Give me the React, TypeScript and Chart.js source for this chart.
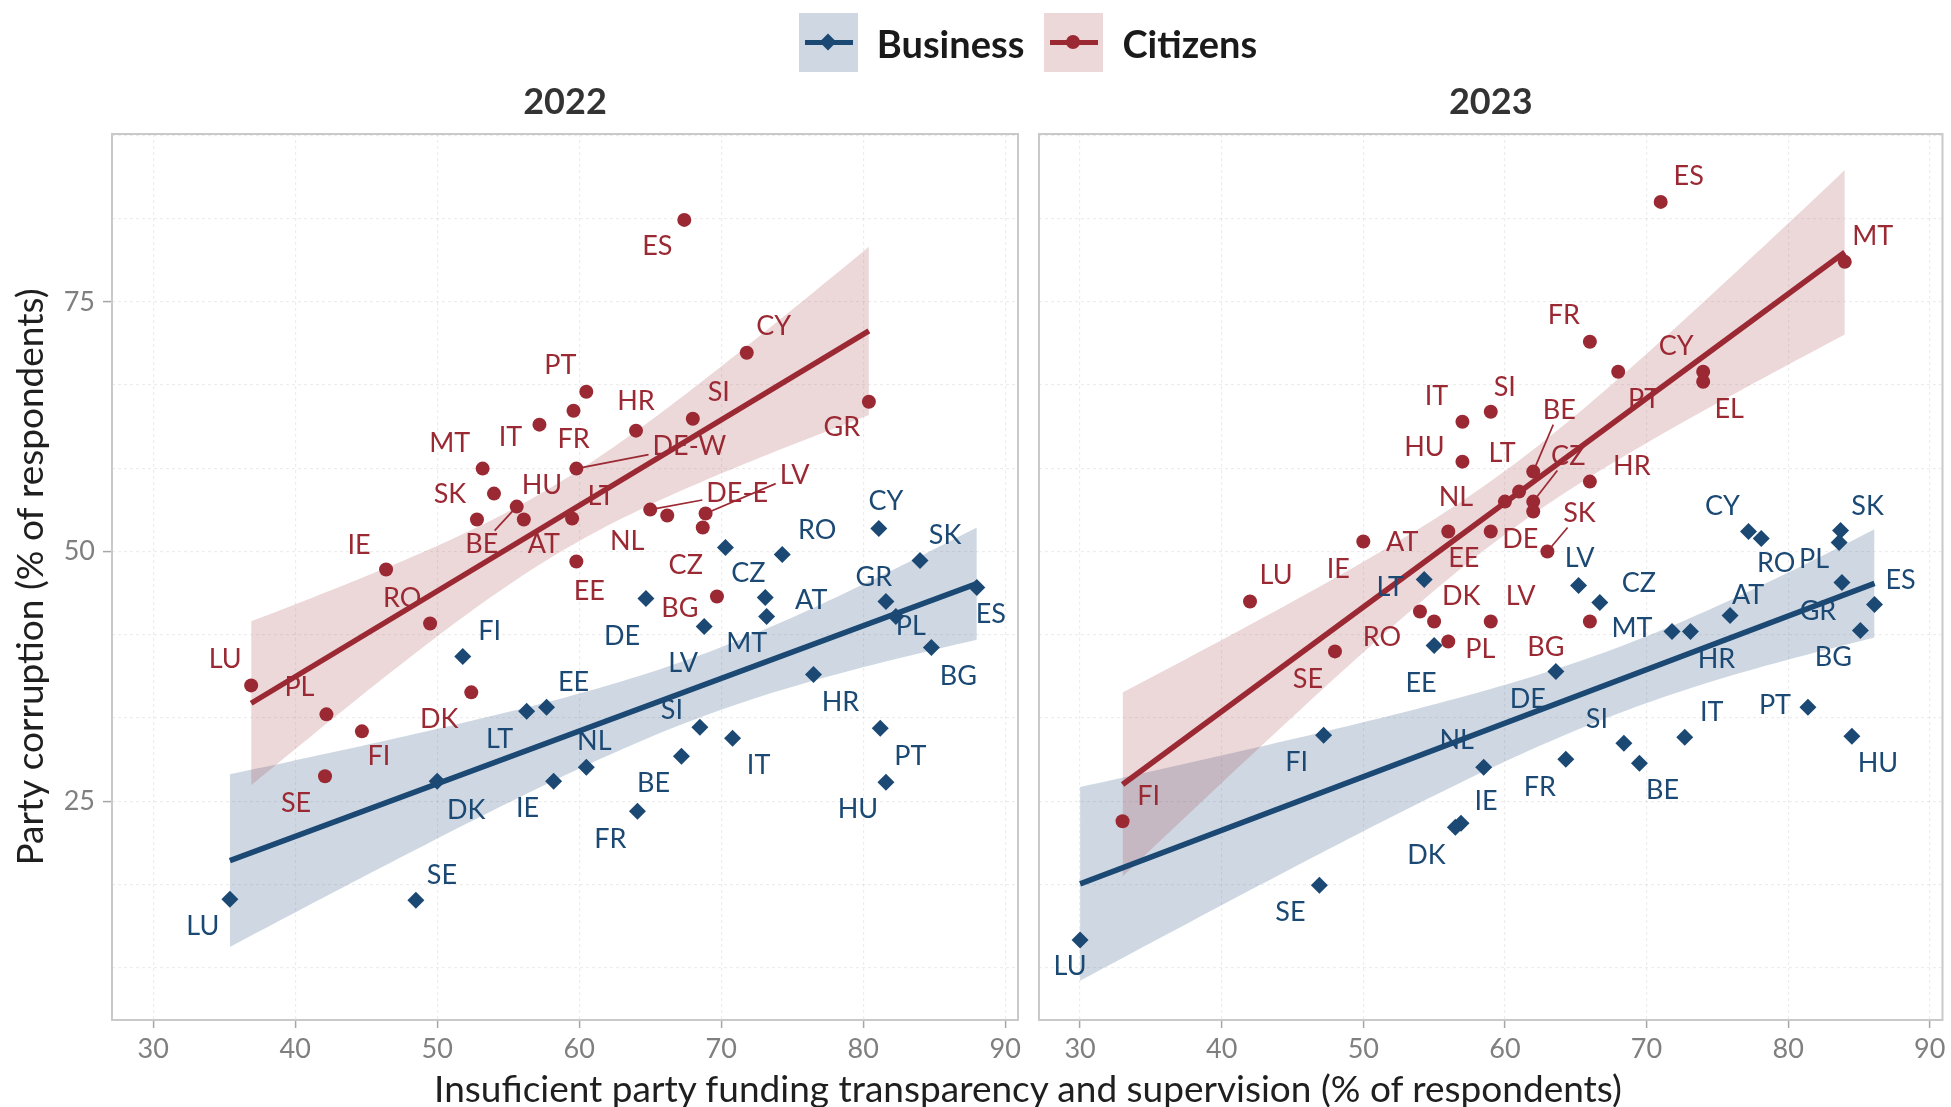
import React, { useEffect, useRef } from "react";
import { Chart, registerables } from "chart.js";

Chart.register(...registerables);

// ---------------- DATA ----------------
const seriesNames = ["Business", "Citizens"];
const years = ["2022", "2023"];

const xMajorTicks = [30, 40, 50, 60, 70, 80, 90];
const yMajorTicks = [25, 50, 75];

// 2022 – Citizens
const citizens2022Countries = ["CY", "PT", "FR", "IT", "HR", "SI", "DE-W", "MT", "HU", "SK", "BE", "AT", "LT", "IE", "RO", "EE", "DE-E", "NL", "LV", "CZ", "BG", "ES", "GR", "LU", "PL", "FI", "SE", "DK"];
const citizens2022X = [71.8, 60.5, 59.6, 57.2, 64.0, 68.0, 59.8, 53.2, 54.0, 52.8, 55.6, 56.1, 59.5, 46.4, 49.5, 59.8, 65.0, 66.2, 68.9, 68.7, 69.7, 67.4, 80.4, 36.9, 42.2, 44.7, 42.1, 52.4];
const citizens2022Y = [69.9, 66.0, 64.1, 62.7, 62.1, 63.3, 58.3, 58.3, 55.8, 53.2, 54.5, 53.2, 53.3, 48.2, 42.8, 49.0, 54.2, 53.6, 53.8, 52.4, 45.5, 83.2, 65.0, 36.6, 33.7, 32.0, 27.5, 35.9];

// 2022 – Business
const business2022Countries = ["CY", "RO", "CZ", "SK", "ES", "GR", "PL", "BG", "AT", "MT", "DE", "LV", "HR", "PT", "HU", "SI", "IT", "BE", "FR", "NL", "IE", "LT", "EE", "FI", "DK", "SE", "LU"];
const business2022X = [81.1, 74.3, 70.3, 84.0, 88.0, 81.6, 82.3, 84.8, 73.1, 73.2, 64.7, 68.8, 76.5, 81.2, 81.6, 68.5, 70.8, 67.2, 64.1, 60.5, 58.2, 56.3, 57.7, 51.8, 50.0, 48.5, 35.4];
const business2022Y = [52.3, 49.7, 50.4, 49.1, 46.4, 45.0, 43.5, 40.4, 45.4, 43.5, 45.3, 42.5, 37.7, 32.3, 26.9, 32.4, 31.3, 29.5, 24.0, 28.4, 27.0, 34.0, 34.4, 39.5, 27.0, 15.1, 15.2];

// 2023 – Citizens
const citizens2023Countries = ["FR", "PT", "CY", "EL", "SI", "IT", "HU", "BE", "LT", "NL", "CZ", "DE", "HR", "EE", "AT", "SK", "IE", "LU", "RO", "DK", "PL", "LV", "SE", "BG", "FI", "ES", "MT"];
const citizens2023X = [66, 68, 74, 74, 59, 57, 57, 62, 61, 60, 62, 62, 66, 59, 56, 63, 50, 42, 54, 55, 56, 59, 48, 66, 33, 71, 84];
const citizens2023Y = [71, 68, 68, 67, 64, 63, 59, 58, 56, 55, 55, 54, 57, 52, 52, 50, 51, 45, 44, 43, 41, 43, 40, 43, 23, 85, 79];

// 2023 – Business
const business2023Countries = ["CY", "RO", "SK", "PL", "GR", "ES", "BG", "AT", "MT", "HR", "LV", "CZ", "PT", "HU", "IT", "SI", "BE", "FR", "LT", "EE", "DE", "FI", "NL", "IE", "DK", "SE", "LU"];
const business2023X = [77.2, 78.1, 83.7, 83.6, 83.8, 86.1, 85.1, 75.9, 71.8, 73.1, 65.2, 66.7, 81.4, 84.5, 72.7, 68.4, 69.5, 64.3, 54.3, 55.0, 63.6, 47.2, 58.5, 56.9, 56.5, 46.9, 30.0];
const business2023Y = [52.0, 51.3, 52.1, 50.9, 46.9, 44.7, 42.1, 43.6, 42.0, 42.0, 46.6, 44.9, 34.4, 31.5, 31.4, 30.8, 28.8, 29.2, 47.2, 40.6, 38.0, 31.6, 28.4, 22.8, 22.4, 16.6, 11.1];

// ---------------- LABEL PLACEMENT (px offsets from point, repel-like) ----------------
const citizens2022LabelOffsets = [[27, -26], [-26, -26], [0, 29], [-29, 13], [0, -29], [26, -26], [113, -22], [-33, -25], [48, -8], [-27, -25], [-35, 38], [20, 25], [29, -22], [-27, -24], [-28, -25], [13, 30], [87, -16], [-40, 26], [89, -38], [-17, 38], [-37, 12], [-27, 26], [-27, 26], [-26, -26], [-27, -27], [17, 25], [-29, 27], [-32, 27]];
const business2022LabelOffsets = [[7, -27], [35, -24], [23, 26], [25, -25], [14, 27], [-12, -24], [15, 10], [27, 29], [46, 3], [-20, 27], [-24, 38], [-21, 37], [27, 28], [30, 28], [-28, 27], [-28, -17], [26, 27], [-28, 27], [-27, 28], [8, -26], [-26, 27], [-27, 28], [27, -25], [27, -25], [29, 29], [26, -25], [-27, 27]];
const citizens2023LabelOffsets = [[-26, -26], [26, 28], [-27, -25], [26, 28], [14, -24], [-26, -25], [-38, -14], [26, -61], [-17, -38], [-49, -4], [35, -45], [-13, 28], [42, -15], [-27, 27], [-46, 11], [32, -38], [-25, 28], [26, -26], [-38, 26], [27, -25], [32, 8], [30, -25], [-27, 28], [-44, 26], [26, -25], [28, -26], [28, -26]];
const business2023LabelOffsets = [[-26, -25], [15, 25], [27, -24], [-25, 17], [-24, 29], [26, -24], [-27, 27], [18, -20], [-40, -3], [26, 28], [1, -27], [39, -19], [-33, -2], [26, 27], [27, -25], [-27, -24], [23, 27], [-26, 28], [-34, 8], [-13, 38], [-28, 28], [-27, 27], [-27, -27], [25, -22], [-29, 28], [-29, 27], [-10, 26]];

const citizens2022Segments = ["DE-W", "DE-E", "LV", "BE"];
const citizens2023Segments = ["BE", "CZ", "SK"];

// ---------------- STYLE ----------------
const BUSINESS = "#1b4974";
const CITIZENS = "#9b2933";
const BUSINESS_BAND = "rgba(27,73,116,0.21)";
const CITIZENS_BAND = "rgba(155,41,51,0.19)";
const FONT = "Lato, 'Noto Sans', sans-serif";
const X_MIN = 27.1, X_MAX = 90.9, Y_MIN = 3.1, Y_MAX = 91.8;
const CANVAS_W = 1951, CANVAS_H = 1107;
const PANEL_LEFT = [112, 1039];
const PANEL_RIGHT = [1018, 1944];
const PANEL_TOP = 134;
const PANEL_BOTTOM = 1020;
const LABEL_SIZE = 27;
const TICK_SIZE = 27;
const AXIS_TITLE_SIZE = 37;

// ---------------- HELPERS ----------------
function tQuantile975(df: number) {
  const z = 1.959964;
  const g1 = (z ** 3 + z) / 4;
  const g2 = (5 * z ** 5 + 16 * z ** 3 + 3 * z) / 96;
  const g3 = (3 * z ** 7 + 19 * z ** 5 + 17 * z ** 3 - 15 * z) / 384;
  return z + g1 / df + g2 / df ** 2 + g3 / df ** 3;
}

function lmFit(xs: number[], ys: number[]) {
  const n = xs.length;
  const mx = xs.reduce((a, b) => a + b, 0) / n;
  const my = ys.reduce((a, b) => a + b, 0) / n;
  let sxx = 0, sxy = 0;
  for (let i = 0; i < n; i++) {
    sxx += (xs[i] - mx) ** 2;
    sxy += (xs[i] - mx) * (ys[i] - my);
  }
  const b = sxy / sxx;
  const a = my - b * mx;
  let sse = 0;
  for (let i = 0; i < n; i++) sse += (ys[i] - a - b * xs[i]) ** 2;
  const s = Math.sqrt(sse / (n - 2));
  const t = tQuantile975(n - 2);
  const lo = Math.min(...xs), hi = Math.max(...xs);
  const steps = 80;
  const upper: { x: number; y: number }[] = [];
  const lower: { x: number; y: number }[] = [];
  for (let k = 0; k <= steps; k++) {
    const x = lo + ((hi - lo) * k) / steps;
    const fit = a + b * x;
    const se = s * Math.sqrt(1 / n + (x - mx) ** 2 / sxx);
    upper.push({ x, y: fit + t * se });
    lower.push({ x, y: fit - t * se });
  }
  const line = [{ x: lo, y: a + b * lo }, { x: hi, y: a + b * hi }];
  return { upper, lower, line };
}

const zip = (xs: number[], ys: number[]) => xs.map((x, i) => ({ x, y: ys[i] }));

const yGridValues: number[] = [];
for (let k = 1; k * 25 / 3 < Y_MAX; k++) {
  const v = (25 * k) / 3;
  if (v > Y_MIN) yGridValues.push(v);
}

// ---------------- PLUGINS ----------------
const framePlugin = {
  id: "panelFrame",
  afterDraw(chart: any, _args: any, opts: any) {
    const { ctx, chartArea: a } = chart;
    ctx.save();
    ctx.strokeStyle = "#c9c9c9";
    ctx.lineWidth = 2;
    ctx.strokeRect(a.left, a.top, a.right - a.left, a.bottom - a.top);
    ctx.fillStyle = "#333333";
    ctx.font = `bold 36px ${FONT}`;
    ctx.textAlign = "center";
    ctx.textBaseline = "middle";
    ctx.fillText(opts.title, (a.left + a.right) / 2, a.top - 32);
    ctx.restore();
  },
};

const labelPlugin = {
  id: "countryLabels",
  afterDatasetsDraw(chart: any) {
    const ctx = chart.ctx;
    ctx.save();
    ctx.font = `${LABEL_SIZE}px ${FONT}`;
    ctx.textAlign = "center";
    ctx.textBaseline = "middle";
    chart.data.datasets.forEach((ds: any, di: number) => {
      if (!ds.countryLabels) return;
      const meta = chart.getDatasetMeta(di);
      meta.data.forEach((el: any, i: number) => {
        const name = ds.countryLabels[i];
        const [dx, dy] = ds.labelOffsets[i];
        const lx = el.x + dx, ly = el.y + dy;
        ctx.fillStyle = ds.labelColor;
        ctx.strokeStyle = ds.labelColor;
        if (ds.segmentLabels && ds.segmentLabels.includes(name)) {
          const w = ctx.measureText(name).width / 2 + 4;
          const h = 14;
          const vx = el.x - lx, vy = el.y - ly;
          const s = Math.min(w / Math.max(Math.abs(vx), 1e-6), h / Math.max(Math.abs(vy), 1e-6));
          ctx.lineWidth = 1.7;
          ctx.beginPath();
          ctx.moveTo(el.x, el.y);
          ctx.lineTo(lx + vx * s, ly + vy * s);
          ctx.stroke();
        }
        ctx.fillText(name, lx, ly);
      });
    });
    ctx.restore();
  },
};

// ---------------- CHART BUILDER ----------------
type Group = { countries: string[]; xs: number[]; ys: number[]; offsets: number[][]; segments: string[] };

function buildConfig(panel: number, business: Group, citizens: Group): any {
  const bFit = lmFit(business.xs, business.ys);
  const cFit = lmFit(citizens.xs, citizens.ys);
  const isFirst = panel === 0;
  const gridColor = "rgba(0,0,0,0.07)";
  const tickColor = "#a6a6a6";
  const bandDs = (data: any, color: string, fill: any, order: number) => ({
    type: "line",
    data,
    borderWidth: 0,
    borderColor: "rgba(0,0,0,0)",
    pointRadius: 0,
    backgroundColor: color,
    fill,
    tension: 0,
    order,
  });
  return {
    type: "line",
    data: {
      datasets: [
        bandDs(bFit.upper, BUSINESS_BAND, "+1", 20),
        bandDs(bFit.lower, BUSINESS_BAND, false, 21),
        bandDs(cFit.upper, CITIZENS_BAND, "+1", 18),
        bandDs(cFit.lower, CITIZENS_BAND, false, 19),
        {
          type: "line", data: bFit.line, borderColor: BUSINESS, borderWidth: 5.5,
          pointRadius: 0, fill: false, order: 10, borderCapStyle: "butt",
        },
        {
          type: "line", data: cFit.line, borderColor: CITIZENS, borderWidth: 5.5,
          pointRadius: 0, fill: false, order: 9, borderCapStyle: "butt",
        },
        {
          type: "line", showLine: false, data: zip(business.xs, business.ys),
          pointStyle: "rectRot", pointRadius: 8.5, pointBackgroundColor: BUSINESS,
          pointBorderWidth: 0, borderColor: BUSINESS, order: 2,
          countryLabels: business.countries, labelOffsets: business.offsets,
          segmentLabels: business.segments, labelColor: BUSINESS,
        },
        {
          type: "line", showLine: false, data: zip(citizens.xs, citizens.ys),
          pointStyle: "circle", pointRadius: 7, pointBackgroundColor: CITIZENS,
          pointBorderWidth: 0, borderColor: CITIZENS, order: 1,
          countryLabels: citizens.countries, labelOffsets: citizens.offsets,
          segmentLabels: citizens.segments, labelColor: CITIZENS,
        },
      ],
    },
    options: {
      responsive: false,
      animation: false,
      events: [],
      devicePixelRatio: 1,
      layout: {
        padding: {
          top: PANEL_TOP,
          bottom: 0,
          left: isFirst ? 0 : PANEL_LEFT[1],
          right: CANVAS_W - PANEL_RIGHT[panel],
        },
      },
      plugins: {
        legend: { display: false },
        tooltip: { enabled: false },
        title: { display: false },
        panelFrame: { title: years[panel] },
      },
      scales: {
        x: {
          type: "linear",
          min: X_MIN,
          max: X_MAX,
          afterBuildTicks: (s: any) => { s.ticks = xMajorTicks.map((v) => ({ value: v })); },
          afterFit: (s: any) => { s.height = CANVAS_H - PANEL_BOTTOM; },
          ticks: {
            autoSkip: false, maxRotation: 0, padding: 5, color: "#7f7f7f",
            font: { family: FONT, size: TICK_SIZE },
            callback: (v: number) => String(v),
          },
          grid: { color: gridColor, lineWidth: 1.2, tickColor, tickLength: 8, tickWidth: 1.5 },
          border: { display: false, dash: [3, 3] },
        },
        y: {
          type: "linear",
          min: Y_MIN,
          max: Y_MAX,
          afterBuildTicks: (s: any) => { s.ticks = yGridValues.map((v) => ({ value: v })); },
          afterFit: (s: any) => { s.width = isFirst ? PANEL_LEFT[0] : 0; },
          title: isFirst
            ? {
                display: true, text: "Party corruption (% of respondents)", color: "#1f1f1f",
                font: { family: FONT, size: AXIS_TITLE_SIZE }, padding: { top: 9, bottom: 0 },
              }
            : { display: false },
          ticks: {
            display: isFirst, autoSkip: false, padding: 8, color: "#7f7f7f",
            font: { family: FONT, size: TICK_SIZE },
            callback: (v: number) => (yMajorTicks.includes(v) ? String(v) : ""),
          },
          grid: {
            color: gridColor, lineWidth: 1.2, drawTicks: isFirst, tickLength: 9, tickWidth: 1.5,
            tickColor: (c: any) => (c.tick && yMajorTicks.includes(c.tick.value) ? tickColor : "rgba(0,0,0,0)"),
          },
          border: { display: false, dash: [3, 3] },
        },
      },
    },
    plugins: [framePlugin, labelPlugin],
  };
}

const panelGroups: { business: Group; citizens: Group }[] = [
  {
    business: { countries: business2022Countries, xs: business2022X, ys: business2022Y, offsets: business2022LabelOffsets, segments: [] },
    citizens: { countries: citizens2022Countries, xs: citizens2022X, ys: citizens2022Y, offsets: citizens2022LabelOffsets, segments: citizens2022Segments },
  },
  {
    business: { countries: business2023Countries, xs: business2023X, ys: business2023Y, offsets: business2023LabelOffsets, segments: [] },
    citizens: { countries: citizens2023Countries, xs: citizens2023X, ys: citizens2023Y, offsets: citizens2023LabelOffsets, segments: citizens2023Segments },
  },
];

function PanelCanvas({ panel }: { panel: number }) {
  const ref = useRef<HTMLCanvasElement | null>(null);
  useEffect(() => {
    if (!ref.current) return;
    const g = panelGroups[panel];
    const chart = new Chart(ref.current, buildConfig(panel, g.business, g.citizens));
    return () => chart.destroy();
  }, [panel]);
  return (
    <canvas
      ref={ref}
      width={CANVAS_W}
      height={CANVAS_H}
      style={{ position: "absolute", left: 0, top: 0, width: CANVAS_W, height: CANVAS_H }}
    />
  );
}

function LegendKey({ color, band, shape }: { color: string; band: string; shape: string }) {
  return (
    <div style={{ position: "relative", width: 59, height: 59, background: "#fff" }}>
      <div style={{ position: "absolute", inset: 0, background: band }} />
      <div style={{ position: "absolute", left: 6, right: 5, top: 27, height: 5, background: color }} />
      {shape === "diamond" ? (
        <div style={{ position: "absolute", left: 23, top: 23, width: 12, height: 12, background: color, transform: "rotate(45deg)" }} />
      ) : (
        <div style={{ position: "absolute", left: 22, top: 22, width: 14, height: 14, borderRadius: "50%", background: color }} />
      )}
    </div>
  );
}

export default function App() {
  const legendStyles = [
    { color: BUSINESS, band: BUSINESS_BAND, shape: "diamond" },
    { color: CITIZENS, band: CITIZENS_BAND, shape: "circle" },
  ];
  return (
    <div style={{ position: "absolute", left: 0, top: 0, width: CANVAS_W, height: CANVAS_H, background: "#ffffff", overflow: "hidden" }}>
      <PanelCanvas panel={0} />
      <PanelCanvas panel={1} />
      <div
        style={{
          position: "absolute", left: PANEL_LEFT[0], width: PANEL_RIGHT[1] - PANEL_LEFT[0], top: 13, height: 59,
          display: "flex", justifyContent: "center", alignItems: "center",
          fontFamily: FONT, fontWeight: 700, fontSize: 38, color: "#1a1a1a",
        }}
      >
        {seriesNames.map((name, i) => (
          <div key={name} style={{ display: "flex", alignItems: "center", marginLeft: i === 0 ? 0 : 20 }}>
            <LegendKey {...legendStyles[i]} />
            <span style={{ marginLeft: 19 }}>{name}</span>
          </div>
        ))}
      </div>
      <div
        style={{
          position: "absolute", left: PANEL_LEFT[0], width: PANEL_RIGHT[1] - PANEL_LEFT[0], top: 1066, height: 44,
          lineHeight: "44px", textAlign: "center", fontFamily: FONT, fontSize: AXIS_TITLE_SIZE, color: "#1f1f1f", whiteSpace: "nowrap",
        }}
      >
        Insuficient party funding transparency and supervision (% of respondents)
      </div>
    </div>
  );
}
